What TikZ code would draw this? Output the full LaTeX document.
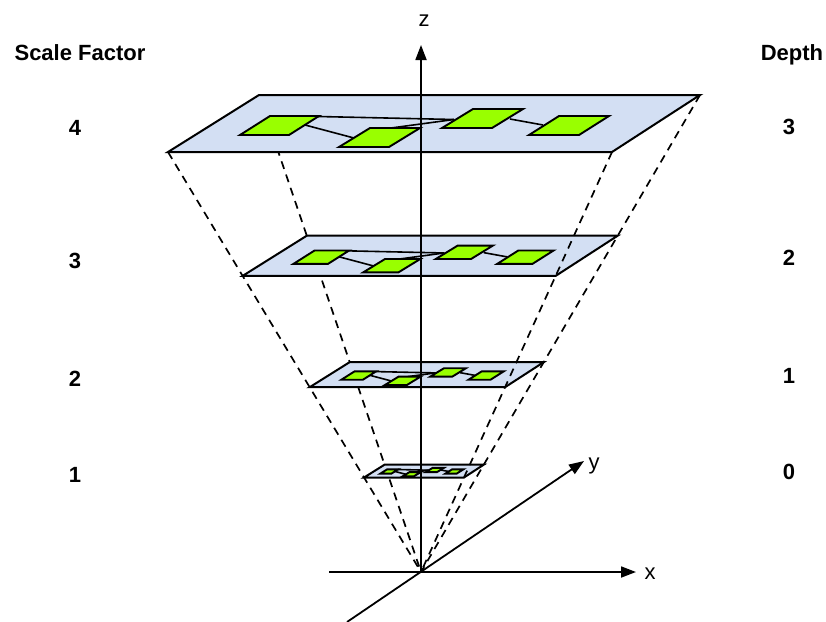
\documentclass[tikz,border=0pt]{standalone}
\usepackage{fontspec}
\setmainfont{Liberation Sans}
\usetikzlibrary{arrows.meta}
\definecolor{planeblue}{RGB}{211,223,243}
\definecolor{limegreen}{RGB}{153,255,0}
\tikzset{
  planebox/.style={fill=planeblue, draw=black, line width=2pt, line join=miter},
  greenbox/.style={fill=limegreen, draw=black, line width=1.9pt, line join=miter},
  link/.style={draw=black, line width=1.6pt},
  ray/.style={draw=black, line width=1.7pt, dash pattern=on 8pt off 6pt},
  axis/.style={draw=black, line width=1.8pt, -{Triangle[length=15pt,width=11pt]}},
  lbl/.style={font=\fontsize{22}{26}\selectfont\bfseries, inner sep=0pt, anchor=base},
  axlbl/.style={font=\fontsize{22}{26}\selectfont, inner sep=0pt, anchor=base},
}
\newcommand\layerdraw[2]{%
  \begin{scope}[shift={(421,572)}, scale=#1]
    \coordinate (TL#2) at (-162,-477);
    \coordinate (TR#2) at (279,-477);
    \coordinate (BR#2) at (191,-420);
    \coordinate (BL#2) at (-253,-420);
    \path[planebox] (TL#2) -- (TR#2) -- (BR#2) -- (BL#2) -- cycle;
    % link end points
    \coordinate (a1#2) at (-103,-455.5);
    \coordinate (a2#2) at (33,-452.5);
    \coordinate (b1#2) at (-30,-444);
    \coordinate (c1#2) at (-116,-447);
    \coordinate (c2#2) at (-67,-434);
    \coordinate (d1#2) at (89,-453);
    \coordinate (d2#2) at (122,-447);
    \draw[link] (a1#2) -- (a2#2);
    \draw[link] (b1#2) -- (a2#2);
    \draw[link] (c1#2) -- (c2#2);
    \draw[link] (d1#2) -- (d2#2);
    % green boxes
    \path[greenbox] (-151,-456) -- (-102,-456) -- (-132,-437) -- (-181,-437) -- cycle;
    \path[greenbox] (-51,-444) -- (-1,-444) -- (-32,-425) -- (-82,-425) -- cycle;
    \path[greenbox] (52,-463) -- (102,-463) -- (71,-444) -- (21,-444) -- cycle;
    \path[greenbox] (138,-456) -- (188,-456) -- (158,-437) -- (108,-437) -- cycle;
  \end{scope}}
\begin{document}
\begin{tikzpicture}[x=1pt,y=-1pt]
  \useasboundingbox (0,0) rectangle (826,621);
  \fill[white] (0,0) rectangle (826,621);
  \coordinate (O) at (421,572);
  \coordinate (cTL) at (259,95);
  \coordinate (cTR) at (700,95);
  \coordinate (cBR) at (612,152);
  \coordinate (cBL) at (168,152);
  % rays behind planes
  \draw[ray] (cTL) -- (O);
  \draw[ray] (cBL) -- (O);
  \draw[ray] (cTR) -- (O);
  % x and y axes
  \coordinate (xs) at (329,572);
  \coordinate (xe) at (636,572);
  \coordinate (ys) at (347,622);
  \coordinate (ye) at (584,461);
  \coordinate (ze) at (421,45);
  \draw[axis] (xs) -- (xe);
  \draw[axis] (ys) -- (ye);
  % planes
  \layerdraw{0.225}{d}
  \layerdraw{0.44}{c}
  \layerdraw{0.705}{b}
  \layerdraw{1}{a}
  % ray over planes
  \draw[ray] (cBR) -- (O);
  % z axis
  \draw[axis] (O) -- (ze);
  % labels
  \node[axlbl] (zl) at (424,26) {z};
  \node[axlbl] (xl) at (650,579) {x};
  \node[axlbl] (yl) at (594,469) {y};
  \node[lbl] (sf) at (80,60) {Scale Factor};
  \node[lbl] (dp) at (792,60) {Depth};
  \node[lbl] (s4) at (75,135.5) {4};
  \node[lbl] (s3) at (75,268.5) {3};
  \node[lbl] (s2) at (75,386.5) {2};
  \node[lbl] (s1) at (75,482.5) {1};
  \node[lbl] (d3) at (789,134.5) {3};
  \node[lbl] (d2) at (789,265.5) {2};
  \node[lbl] (d1) at (789,383.5) {1};
  \node[lbl] (d0) at (789,479.5) {0};
\end{tikzpicture}
\end{document}
